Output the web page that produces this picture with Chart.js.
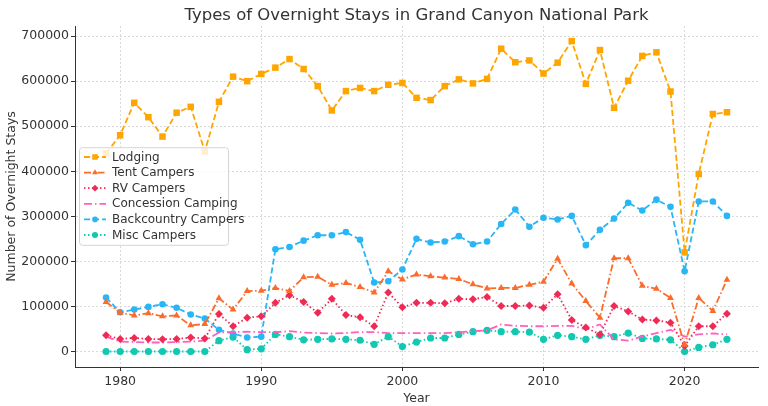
<!DOCTYPE html>
<html lang="en">
<head>
  <meta charset="UTF-8" />
  <title>Types of Overnight Stays in Grand Canyon National Park</title>
  <script src="https://cdn.jsdelivr.net/npm/chart.js"></script>
  <style>
    html, body {
      margin: 0;
      padding: 0;
      background: #ffffff;
    }
    .chart-box {
      width: 768px;
      height: 406px;
    }
  </style>
</head>
<body>
  <div class="chart-box">
    <canvas id="staysChart" width="768" height="406"></canvas>
  </div>

  <script>
    const years = [];
    for (let y = 1979; y <= 2023; y++) years.push(y);

    const lodging = [440000, 480000, 552000, 520000, 477000, 530000, 543000, 444000, 554000, 610000,
      600000, 616000, 630000, 649000, 627000, 589000, 535000, 578000, 585000, 578000,
      592000, 596000, 563000, 558000, 589000, 604000, 595000, 605000, 672000, 642000,
      646000, 617000, 641000, 689000, 594000, 669000, 541000, 601000, 656000, 664000,
      577000, 220000, 394000, 527000, 531000];
    const tentCampers = [110000, 86000, 80000, 85000, 78000, 80000, 58000, 61000, 118000, 93000,
      134000, 135000, 141000, 134000, 165000, 166000, 148000, 152000, 143000, 131000,
      178000, 160000, 171000, 167000, 164000, 161000, 149000, 140000, 141000, 141000,
      148000, 155000, 206000, 151000, 112000, 75000, 207000, 207000, 146000, 139000,
      119000, 15000, 119000, 90000, 159000];
    const rvCampers = [36000, 28000, 30000, 28000, 27000, 28000, 31000, 29000, 83000, 56000,
      75000, 78000, 108000, 125000, 110000, 86000, 117000, 81000, 76000, 56000,
      131000, 98000, 108000, 108000, 107000, 117000, 116000, 121000, 101000, 101000,
      102000, 97000, 127000, 70000, 53000, 38000, 101000, 89000, 71000, 69000,
      64000, 12000, 56000, 56000, 84000];
    const concession = [33000, 22000, 21000, 20000, 20000, 21000, 22000, 24000, 42000, 43000,
      44000, 43000, 43000, 45000, 42000, 41000, 40000, 41000, 43000, 43000,
      41000, 41000, 41000, 41000, 41000, 43000, 45000, 47000, 60000, 57000,
      56000, 56000, 57000, 57000, 49000, 60000, 27000, 24000, 33000, 41000,
      48000, 33000, 38000, 40000, 38000];
    const backcountry = [120000, 87000, 93000, 99000, 105000, 97000, 82000, 73000, 48000, 40000,
      31000, 33000, 227000, 232000, 246000, 258000, 258000, 265000, 248000, 153000,
      156000, 182000, 250000, 242000, 244000, 256000, 238000, 244000, 283000, 315000,
      277000, 297000, 293000, 301000, 236000, 270000, 295000, 330000, 313000, 337000,
      321000, 178000, 333000, 333000, 301000];
    const miscCampers = [0, 0, 0, 0, 0, 0, 0, 0, 24000, 32000,
      4000, 6000, 38000, 33000, 26000, 27000, 28000, 27000, 25000, 16000,
      33000, 11000, 21000, 30000, 30000, 38000, 44000, 47000, 44000, 44000,
      43000, 27000, 36000, 33000, 27000, 36000, 33000, 41000, 29000, 28000,
      26000, 0, 9000, 15000, 27000];

    const xTicks = [1980, 1990, 2000, 2010, 2020];
    const yTicks = [0, 100000, 200000, 300000, 400000, 500000, 600000, 700000];

    const titleText = 'Types of Overnight Stays in Grand Canyon National Park';
    const font = "'DejaVu Sans', sans-serif";
    const textColor = '#333333';

    function series(label, values, color, dash, pointStyle, radius) {
      return {
        label: label,
        data: values.map((v, i) => ({ x: years[i], y: v })),
        borderColor: color,
        backgroundColor: color,
        borderWidth: 1.8,
        borderDash: dash,
        pointStyle: pointStyle,
        pointRadius: radius,
        pointBorderWidth: 0,
        tension: 0,
        fill: false
      };
    }

    // title centred over the plot area, as matplotlib does
    const plotTitle = {
      id: 'plotTitle',
      afterDraw(chart) {
        const ctx = chart.ctx;
        const area = chart.chartArea;
        ctx.save();
        ctx.font = '16.5px ' + font;
        ctx.fillStyle = textColor;
        ctx.textAlign = 'center';
        ctx.textBaseline = 'alphabetic';
        ctx.fillText(titleText, (area.left + area.right) / 2, 20);
        ctx.restore();
      }
    };

    // legend drawn inside the plot, at the centre left like the original
    const innerLegend = {
      id: 'innerLegend',
      afterDraw(chart) {
        const ctx = chart.ctx;
        const area = chart.chartArea;
        const sets = chart.data.datasets;
        const rowH = 15.6;
        const boxW = 149;
        const boxH = sets.length * rowH + 4;
        const x0 = area.left + 4;
        const y0 = (area.top + area.bottom) / 2 - boxH / 2 - 0.5;
        ctx.save();
        ctx.fillStyle = 'rgba(255,255,255,0.8)';
        ctx.strokeStyle = '#d5d5d5';
        ctx.lineWidth = 1;
        ctx.beginPath();
        ctx.roundRect(x0 + 0.5, y0 + 0.5, boxW, boxH, 3);
        ctx.fill();
        ctx.stroke();
        ctx.font = '12px ' + font;
        ctx.textBaseline = 'middle';
        sets.forEach((ds, i) => {
          const cy = y0 + 2 + rowH * i + rowH / 2;
          ctx.setLineDash(ds.borderDash);
          ctx.strokeStyle = ds.borderColor;
          ctx.lineWidth = ds.borderWidth;
          ctx.beginPath();
          ctx.moveTo(x0 + 5, cy);
          ctx.lineTo(x0 + 27, cy);
          ctx.stroke();
          ctx.setLineDash([]);
          if (ds.pointRadius > 0) {
            ctx.fillStyle = ds.backgroundColor;
            Chart.helpers.drawPoint(ctx, {
              pointStyle: ds.pointStyle,
              radius: ds.pointRadius * 0.85,
              borderWidth: 0,
              rotation: 0
            }, x0 + 16, cy);
          }
          ctx.fillStyle = textColor;
          ctx.fillText(ds.label, x0 + 33, cy + 0.5);
        });
        ctx.restore();
      }
    };

    new Chart(document.getElementById('staysChart'), {
      type: 'line',
      data: {
        datasets: [
          series('Lodging', lodging, '#ffa500', [6, 3], 'rect', 4.6),
          series('Tent Campers', tentCampers, '#fb6c2c', [7, 2.5, 1.5, 2.5], 'triangle', 4),
          series('RV Campers', rvCampers, '#ef2a55', [1.5, 2.5], 'rectRot', 4),
          series('Concession Camping', concession, '#ff5fbf', [8, 3, 1.5, 3], 'line', 0),
          series('Backcountry Campers', backcountry, '#29b6f6', [6, 3], 'circle', 3.3),
          series('Misc Campers', miscCampers, '#13c8b0', [1.5, 2.5], 'circle', 3.6)
        ]
      },
      options: {
        responsive: false,
        animation: false,
        events: [],
        layout: { padding: { top: 26, right: 10, bottom: 0, left: 0 } },
        plugins: {
          legend: { display: false },
          tooltip: { enabled: false },
          title: { display: false }
        },
        scales: {
          x: {
            type: 'linear',
            min: 1976.8,
            max: 2025.2,
            afterBuildTicks: (axis) => { axis.ticks = xTicks.map(v => ({ value: v })); },
            afterFit: (axis) => { axis.height = 39; },
            ticks: {
              color: textColor,
              font: { family: font, size: 12.5 },
              padding: 3,
              maxRotation: 0,
              callback: (v) => String(v)
            },
            grid: {
              color: '#d9d9d9',
              tickColor: '#333333',
              tickLength: 4,
              drawTicks: true
            },
            border: { display: true, color: '#333333', width: 1, dash: [2, 2] },
            title: {
              display: true,
              text: 'Year',
              color: textColor,
              font: { family: font, size: 12.5 },
              padding: { top: 0, bottom: 0 }
            }
          },
          y: {
            min: -34400,
            max: 722400,
            afterBuildTicks: (axis) => { axis.ticks = yTicks.map(v => ({ value: v })); },
            afterFit: (axis) => { axis.width = 75; },
            ticks: {
              color: textColor,
              font: { family: font, size: 12.5 },
              padding: 2,
              callback: (v) => String(v)
            },
            grid: {
              color: '#d9d9d9',
              tickColor: '#333333',
              tickLength: 4,
              drawTicks: true
            },
            border: { display: true, color: '#333333', width: 1, dash: [2, 2] },
            title: {
              display: true,
              text: 'Number of Overnight Stays',
              color: textColor,
              font: { family: font, size: 12.5 },
              padding: { top: 4, bottom: 2 }
            }
          }
        }
      },
      plugins: [plotTitle, innerLegend]
    });
  </script>
</body>
</html>
